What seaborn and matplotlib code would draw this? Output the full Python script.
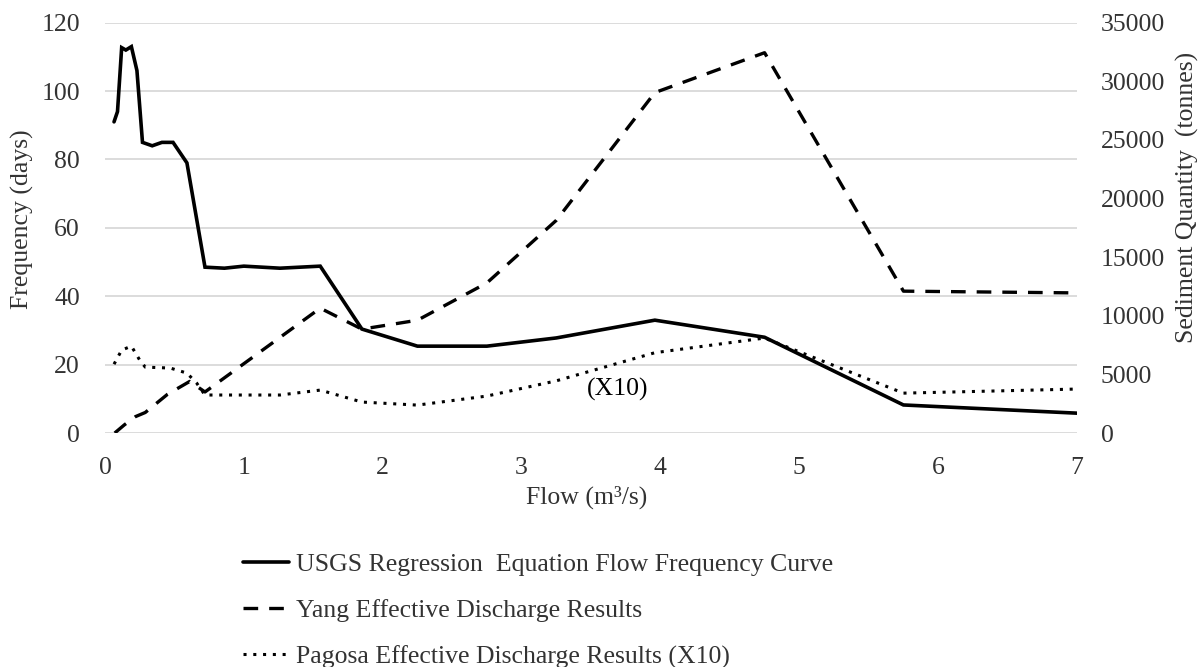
import matplotlib
matplotlib.use("Agg")
import matplotlib.pyplot as plt
import seaborn as sns

# USGS regression flow frequency curve (left axis, days)
usgs_flow = [0.065, 0.09, 0.12, 0.15, 0.19, 0.23, 0.27, 0.34, 0.41, 0.49, 0.59, 0.72,
             0.86, 1.0, 1.26, 1.55, 1.85, 2.25, 2.75, 3.25, 3.96, 4.75, 5.75, 7.0]
usgs_days = [91, 94, 112.7, 112, 113, 106, 85, 84, 85, 85, 79, 48.5,
             48.2, 48.8, 48.2, 48.8, 30.4, 25.4, 25.4, 27.8, 33, 28, 8.2, 5.8]

# Yang effective discharge (right axis, tonnes)
yang_flow = [0.07, 0.14, 0.22, 0.29, 0.45, 0.61, 0.72, 1.55, 1.85, 2.25, 2.75, 3.25,
             3.96, 4.75, 5.75, 7.0]
yang_tonnes = [0, 700, 1400, 1750, 3300, 4400, 3500, 10650, 8860, 9620, 12800, 18140,
               29040, 32440, 12100, 11950]

# Pagosa effective discharge x10 (right axis, tonnes)
pagosa_flow = [0.065, 0.12, 0.19, 0.25, 0.29, 0.47, 0.59, 0.66, 0.72, 0.92, 1.26, 1.55,
               1.85, 2.25, 2.75, 3.25, 3.96, 4.75, 5.75, 7.0]
pagosa_tonnes = [5870, 7070, 7410, 6220, 5620, 5540, 5110, 4260, 3240, 3240, 3240, 3660,
                 2640, 2380, 3150, 4450, 6850, 8100, 3400, 3750]

x_ticks = [0, 1, 2, 3, 4, 5, 6, 7]
left_ticks = [0, 20, 40, 60, 80, 100, 120]
right_ticks = [0, 5000, 10000, 15000, 20000, 25000, 30000, 35000]

labels = [
    "USGS Regression  Equation Flow Frequency Curve",
    "Yang Effective Discharge Results",
    "Pagosa Effective Discharge Results (X10)",
]

sns.set_theme(style="white")
plt.rcParams["font.family"] = ["Liberation Serif", "DejaVu Serif"]
TXT = "#333333"
FS = 18.5

W, H = 1202, 667
fig = plt.figure(figsize=(W / 100, H / 100), dpi=100)
ax = fig.add_axes([105 / W, 1 - 433 / H, (1077 - 105) / W, (433 - 22.7) / H])
ax2 = ax.twinx()

sns.lineplot(x=usgs_flow, y=usgs_days, ax=ax, sort=False, estimator=None,
             color="black", linewidth=2.6, solid_joinstyle="miter")
sns.lineplot(x=yang_flow, y=yang_tonnes, ax=ax2, sort=False, estimator=None,
             color="black", linewidth=2.4, linestyle=(0, (4.4, 3.3)))
sns.lineplot(x=pagosa_flow, y=pagosa_tonnes, ax=ax2, sort=False, estimator=None,
             color="black", linewidth=2.2, linestyle=(0, (1, 2.2)))

ax.set_xlim(0, 7)
ax.set_ylim(0, 120)
ax2.set_ylim(0, 35000)
ax.set_xticks(x_ticks)
ax.set_yticks(left_ticks)
ax2.set_yticks(right_ticks)

ax.grid(axis="y", color="#d9d9d9", linewidth=1.3)
ax.grid(axis="x", visible=False)
ax2.grid(False)
for a in (ax, ax2):
    for s in a.spines.values():
        s.set_visible(False)

ax.tick_params(axis="x", length=0, pad=17, labelsize=FS, labelcolor=TXT)
ax.tick_params(axis="y", length=0, pad=18, labelsize=FS, labelcolor=TXT)
ax2.tick_params(axis="y", length=0, pad=17, labelsize=FS, labelcolor=TXT)

ax.set_xlabel("Flow (m³/s)", fontsize=FS, color=TXT)
ax.xaxis.set_label_coords(0.496, -0.128)
ax.set_ylabel("Frequency (days)", fontsize=FS, color=TXT)
ax.yaxis.set_label_coords(-0.073, 0.52)
ax2.set_ylabel("Sediment Quantity  (tonnes)", fontsize=FS, color=TXT)
ax2.yaxis.set_label_coords(1.102, 0.573)

ax.text(3.69, 12.6, "(X10)", ha="center", va="center", fontsize=FS, color="black")

handles = [ax.get_lines()[0], ax2.get_lines()[0], ax2.get_lines()[1]]
fig.legend(handles, labels, loc="upper left", bbox_to_anchor=(243 / W, 1 - 553 / H),
           frameon=False, fontsize=FS, labelcolor=TXT, borderpad=0, borderaxespad=0,
           handlelength=1.8, handletextpad=0.25, labelspacing=0.9)

fig.savefig("out.png", dpi=100)
